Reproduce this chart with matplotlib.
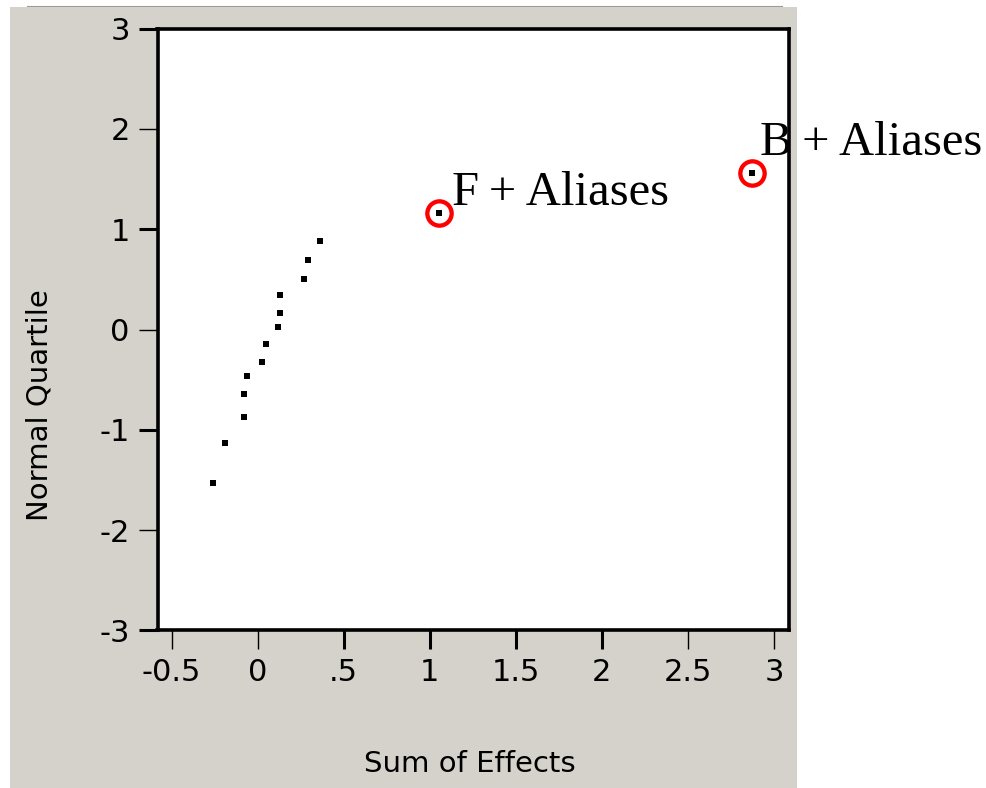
import matplotlib.pyplot as plt
from matplotlib.patches import Rectangle
from matplotlib.lines import Line2D

# effect estimates (sum of effects) vs normal quantile
effects = [-0.258, -0.188, -0.081, -0.081, -0.060, 0.025, 0.046, 0.118,
           0.130, 0.130, 0.271, 0.294, 0.364, 1.053, 2.874]
quantiles = [-1.532, -1.130, -0.868, -0.646, -0.463, -0.324, -0.141, 0.022,
             0.161, 0.344, 0.506, 0.689, 0.888, 1.167, 1.566]

# highlighted effects
hl_x = [1.053, 2.874]
hl_y = [1.167, 1.566]
hl_labels = ["F\u2009+ Aliases", "B\u2009+ Aliases"]
hl_text_pos = [(1.127, 1.240), (2.919, 1.738)]

xticks = [-0.5, 0, 0.5, 1, 1.5, 2, 2.5, 3]
xticklabels = ["-0.5", "0", ".5", "1", "1.5", "2", "2.5", "3"]
yticks = [3, 2, 1, 0, -1, -2, -3]
yticklabels = ["3", "2", "1", "0", "-1", "-2", "-3"]

W, H = 987, 788
fig = plt.figure(figsize=(W / 100, H / 100), dpi=100, facecolor="white")

panel = "#d5d2cb"
fig.patches.append(Rectangle((10 / W, 0), 787 / W, 781 / H, transform=fig.transFigure,
                             facecolor=panel, edgecolor="none", zorder=-10))
fig.lines.append(Line2D([28 / W, 782 / W], [781.5 / H, 781.5 / H], transform=fig.transFigure,
                        color="#9a9a9a", lw=1.5, zorder=-10))

ax = fig.add_axes([157.5 / W, 0.1999, (789 - 157.5) / W, 0.7637])
ax.set_facecolor("white")
ax.set_zorder(1)

ax.plot(effects, quantiles, "s", color="black", markersize=3.8, markeredgewidth=0, zorder=4)
ax.plot(hl_x, hl_y, "o", markerfacecolor="none", markeredgecolor="red",
        markersize=17.5, markeredgewidth=3.1, zorder=3, clip_on=False)

for lab, (tx, ty) in zip(hl_labels, hl_text_pos):
    ax.text(tx, ty, lab, fontsize=35, family="Liberation Serif", ha="left", va="baseline",
            clip_on=False, zorder=2)

ax.set_xlim(-0.582, 3.087)
ax.set_ylim(-3, 3)

ax.set_xticks(xticks)
ax.set_xticklabels(xticklabels)
ax.set_yticks(yticks)
ax.set_yticklabels(yticklabels)
ax.tick_params(axis="both", direction="out", length=14, width=1, labelsize=22, pad=6,
               colors="black")

# some ticks are drawn heavier in the original
thick_x = [0.5, 1, 1.5, 2]
for t, v in zip(ax.xaxis.get_major_ticks(), xticks):
    if v in thick_x:
        t.tick1line.set_markeredgewidth(2.2)
for t, v in zip(ax.yaxis.get_major_ticks(), yticks):
    if v % 2 != 0:
        t.tick1line.set_markeredgewidth(2.2)

for s in ax.spines.values():
    s.set_linewidth(2.6)
    s.set_color("black")
    s.set_zorder(5)

fig.text(40 / W, (H - 405) / H, "Normal Quartile", rotation=90, fontsize=21,
         ha="center", va="center")
fig.text(470 / W, (H - 764) / H, "Sum of Effects", fontsize=21, ha="center", va="center")

fig.savefig("out.png", dpi=100, facecolor="white")
